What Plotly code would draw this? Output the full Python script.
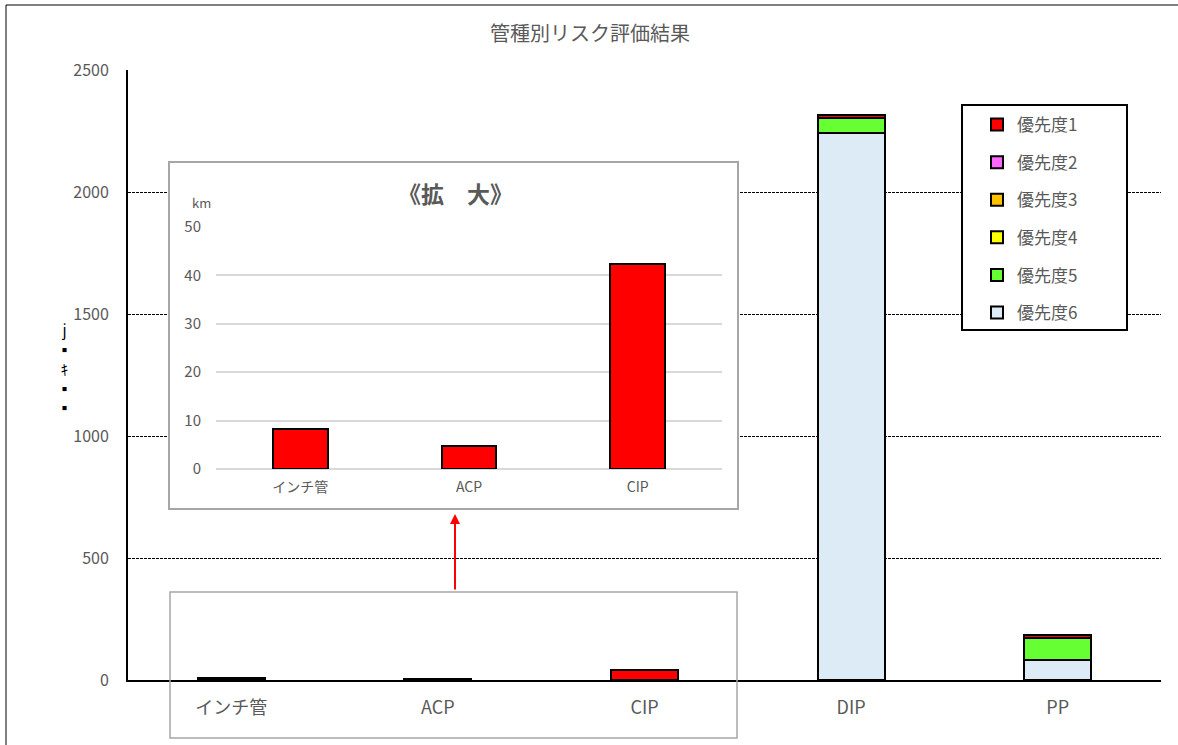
import plotly.graph_objects as go

W, H = 1178, 745

# Pipe types and risk-priority lengths (km)
categories = ["インチ管", "ACP", "CIP", "DIP", "PP"]
priority_names = ["優先度1", "優先度2", "優先度3", "優先度4", "優先度5", "優先度6"]
p1 = [8.2, 4.8, 42.4, 12, 14]
p2 = [0, 0, 0, 0, 0]
p3 = [0, 0, 0, 0, 0]
p4 = [0, 0, 0, 0, 0]
p5 = [0, 0, 0, 62, 90]
p6 = [0, 0, 0, 2242, 82]
priority_values = [p1, p2, p3, p4, p5, p6]
colors = ["#FF0000", "#FF66FF", "#FFC000", "#FFFF00", "#66FF33", "#DDEBF7"]

# Enlarged view of the three small pipe types (priority 1 only)
zoom_categories = categories[:3]
zoom_values = p1[:3]

main_yticks = [0, 500, 1000, 1500, 2000, 2500]
zoom_yticks = [0, 10, 20, 30, 40, 50]

FONT = "Noto Sans CJK JP"
GREY = "#595959"


def fx(px):
    return px / W


def fy(px):
    return 1 - px / H


fig = go.Figure()

# stacked bars: priority 6 at the bottom, priority 1 on top
for i in range(5, -1, -1):
    fig.add_trace(go.Bar(
        x=categories, y=priority_values[i], name=priority_names[i],
        marker=dict(color=colors[i], line=dict(color="black", width=2)),
        legendgroup=priority_names[i], legendrank=i + 1,
        xaxis="x", yaxis="y",
    ))

# empty trace so the white inset panel (x2/y2) gets its own subplot
fig.add_trace(go.Scatter(x=[], y=[], showlegend=False, hoverinfo="skip",
                         xaxis="x2", yaxis="y2"))

# inset chart
fig.add_trace(go.Bar(
    x=zoom_categories, y=zoom_values, showlegend=False,
    marker=dict(color=colors[0], line=dict(color="black", width=2)),
    xaxis="x3", yaxis="y3",
))

fig.update_layout(
    width=W, height=H,
    margin=dict(l=0, r=0, t=0, b=0, autoexpand=False),
    paper_bgcolor="white", plot_bgcolor="white",
    barmode="stack", bargap=0.676,
    font=dict(family=FONT, color=GREY),
    xaxis=dict(
        domain=[fx(128), fx(1161)], anchor="y", automargin=False,
        showline=True, linecolor="black", linewidth=2,
        showgrid=False, ticks="", ticklabelstandoff=10,
        tickfont=dict(size=18, color=GREY), fixedrange=True,
    ),
    yaxis=dict(
        domain=[fy(680), fy(70)], anchor="x", range=[0, 2500], automargin=False,
        tickvals=main_yticks, showline=True, linecolor="black", linewidth=2,
        showgrid=True, gridcolor="black", gridwidth=1, griddash="3px,1px",
        zeroline=False, ticks="", ticklabelstandoff=14,
        tickfont=dict(size=16, color=GREY),
    ),
    # white panel behind the inset
    xaxis2=dict(
        domain=[fx(170), fx(737)], anchor="y2", range=[0, 1], automargin=False,
        showline=True, mirror=True, linecolor="#A6A6A6", linewidth=1.5,
        showgrid=False, zeroline=False, showticklabels=False, ticks="",
    ),
    yaxis2=dict(
        domain=[fy(508), fy(163)], anchor="x2", range=[0, 1], automargin=False,
        showline=True, mirror=True, linecolor="#A6A6A6", linewidth=1.5,
        showgrid=False, zeroline=False, showticklabels=False, ticks="",
    ),
    xaxis3=dict(
        domain=[fx(216), fx(722)], anchor="y3", automargin=False,
        showline=False, showgrid=False, ticks="", ticklabelstandoff=8,
        tickfont=dict(size=14, color=GREY),
    ),
    yaxis3=dict(
        domain=[fy(469), fy(227)], anchor="x3", range=[0, 50], automargin=False,
        tickvals=zoom_yticks, showline=False,
        showgrid=True, gridcolor="#D9D9D9", gridwidth=2,
        zeroline=True, zerolinecolor="#D9D9D9", zerolinewidth=2,
        ticks="", ticklabelstandoff=14,
        tickfont=dict(size=15, color=GREY),
    ),
    legend=dict(
        x=fx(977), y=fy(107), xanchor="left", yanchor="top",
        bgcolor="rgba(0,0,0,0)", borderwidth=0,
        traceorder="grouped", tracegroupgap=12.5,
        font=dict(size=17, color=GREY, family=FONT),
    ),
    showlegend=True,
)

shapes = [
    # outer frame (top and left edges)
    dict(type="line", xref="paper", yref="paper", x0=fx(6), x1=1, y0=fy(5), y1=fy(5),
         line=dict(color="black", width=1)),
    dict(type="line", xref="paper", yref="paper", x0=fx(6), x1=fx(6), y0=fy(5), y1=0,
         line=dict(color="black", width=1)),
    # frame around the small bars at the bottom
    dict(type="rect", xref="paper", yref="paper", x0=fx(170), x1=fx(737), y0=fy(738), y1=fy(592),
         line=dict(color="#A6A6A6", width=1.5), fillcolor="rgba(0,0,0,0)", layer="above"),
    # legend frame
    dict(type="rect", xref="paper", yref="paper", x0=fx(962), x1=fx(1127), y0=fy(330), y1=fy(105),
         line=dict(color="black", width=2), fillcolor="white", layer="above"),
]
fig.update_layout(shapes=shapes)


def label(text, x, y, size, color=GREY):
    return dict(text=text, x=fx(x), y=fy(y), xref="paper", yref="paper",
                xanchor="center", yanchor="middle", showarrow=False,
                font=dict(size=size, color=color, family=FONT))


annotations = [
    label("管種別リスク評価結果", 590, 33, 20),
    label("<b>《拡　大》</b>", 455, 193, 23),
    label("km", 201, 202, 13),
    label("j<br>▪<br>ｷ<br>▪<br>▪", 64, 368, 15, "black"),
    # arrow from the small bars up to the enlarged view
    dict(text="", x=fx(455), y=fy(514), xref="paper", yref="paper",
         showarrow=True, ax=0, ay=77, axref="pixel", ayref="pixel",
         arrowcolor="#FF0000", arrowwidth=2, arrowhead=2, arrowsize=1),
]
fig.update_layout(annotations=annotations)

fig.write_html("out.html")
